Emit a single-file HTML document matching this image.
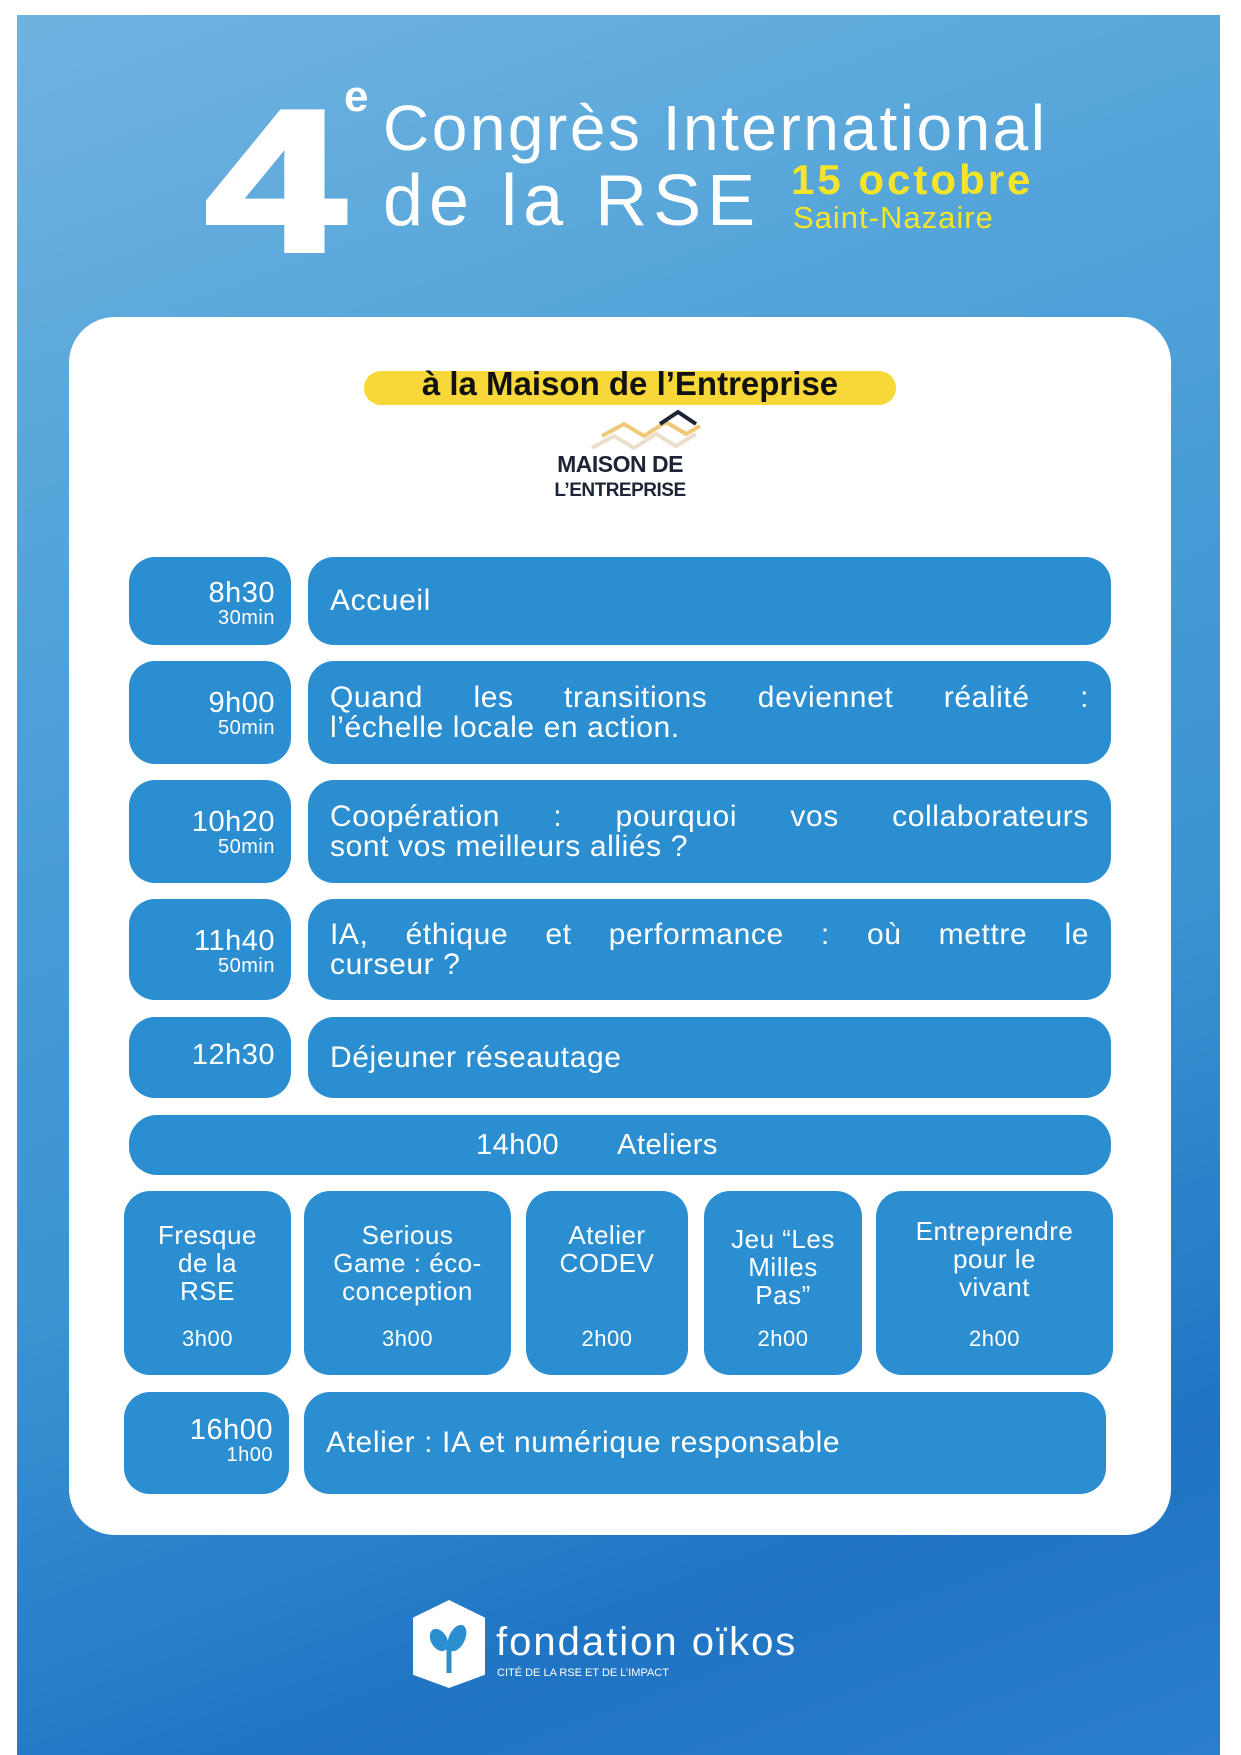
<!DOCTYPE html>
<html><head><meta charset="utf-8"><style>
*{margin:0;padding:0;box-sizing:border-box}
body{width:1241px;height:1755px;position:relative;background:#fff;font-family:"Liberation Sans",sans-serif;overflow:hidden}
.bg{position:absolute;left:17px;top:15px;width:1203px;height:1740px;background:linear-gradient(160deg,#6fb3e0 0%,#4fa1d8 30%,#3b93d2 60%,#1f74c3 85%,#2a7fcc 100%)}
.card{position:absolute;left:69px;top:317px;width:1102px;height:1218px;background:#fff;border-radius:46px}
.b{position:absolute;background:#2b8ed1;border-radius:26px;color:#fff;letter-spacing:0.5px}
.t{text-align:right;padding-right:16px}
.t .h{font-size:29px;line-height:29px}
.t .m{font-size:20px;line-height:20px}
.c{font-size:30px;line-height:30px;padding:0 22px;display:flex;align-items:center;letter-spacing:0.6px}
.c .w{width:100%}
.c .j{text-align:justify;text-align-last:justify}
.a{text-align:center;font-size:26px;line-height:28px;padding:30px 4px 0}
.a .d{position:absolute;left:0;right:0;bottom:22px;font-size:22px}
</style></head><body>
<div class="bg"></div>
<div style="position:absolute;left:206px;top:82px;color:#fff;font-weight:bold;font-size:200px;line-height:200px;transform:scaleX(1.25);transform-origin:left;-webkit-text-stroke:6px #fff">4</div>
<div style="position:absolute;left:344px;top:72px;color:#fff;font-weight:bold;font-size:44px">e</div>
<div style="position:absolute;left:383px;top:95px;color:#fff;font-size:64px;line-height:66px;white-space:nowrap;letter-spacing:2.5px">Congrès International</div>
<div style="position:absolute;left:383px;top:166px;color:#fff;font-size:72px;line-height:70px;white-space:nowrap;letter-spacing:6px">de la RSE</div>
<div style="position:absolute;left:791px;top:158px;color:#f5e52a;font-weight:bold;font-size:42px;line-height:44px;white-space:nowrap;letter-spacing:3px">15 octobre</div>
<div style="position:absolute;left:793px;top:202px;color:#f5e52a;font-size:31px;line-height:32px;white-space:nowrap;letter-spacing:1px">Saint-Nazaire</div>
<div class="card"></div>
<div style="position:absolute;left:364px;top:371px;width:532px;height:34px;background:#f7d838;border-radius:17px"></div>
<div style="position:absolute;left:364px;top:364px;width:532px;text-align:center;font-weight:bold;font-size:33px;line-height:40px;color:#111">à la Maison de l’Entreprise</div>
<svg style="position:absolute;left:590px;top:408px" width="115" height="48"><polyline points="2,40 24,28 44,40 66,26 86,38 106,26" fill="none" stroke="#eadfcb" stroke-width="4"/><polyline points="12,28 34,16 54,28 76,14 96,26 110,18" fill="none" stroke="#f0c978" stroke-width="4"/><polyline points="70,16 88,4 106,16" fill="none" stroke="#1d2435" stroke-width="4"/></svg>
<div style="position:absolute;left:530px;top:452px;width:180px;text-align:center;color:#1d2435;font-weight:bold;font-size:23px;line-height:24px;letter-spacing:-0.5px">MAISON DE<br><span style="font-size:19px">L’ENTREPRISE</span></div>

<div class="b t" style="left:129px;top:557px;width:162px;height:88px;padding-top:22px"><div class="h">8h30</div><div class="m">30min</div></div>
<div class="b c" style="left:308px;top:557px;width:803px;height:88px">Accueil</div>

<div class="b t" style="left:129px;top:661px;width:162px;height:103px;padding-top:28px"><div class="h">9h00</div><div class="m">50min</div></div>
<div class="b c" style="left:308px;top:661px;width:803px;height:103px"><div class="w"><div class="j">Quand les transitions deviennet réalité :</div><div>l’échelle locale en action.</div></div></div>

<div class="b t" style="left:129px;top:780px;width:162px;height:103px;padding-top:28px"><div class="h">10h20</div><div class="m">50min</div></div>
<div class="b c" style="left:308px;top:780px;width:803px;height:103px"><div class="w"><div class="j">Coopération : pourquoi vos collaborateurs</div><div>sont vos meilleurs alliés ?</div></div></div>

<div class="b t" style="left:129px;top:899px;width:162px;height:101px;padding-top:28px"><div class="h">11h40</div><div class="m">50min</div></div>
<div class="b c" style="left:308px;top:899px;width:803px;height:101px"><div class="w"><div class="j">IA, éthique et performance : où mettre le</div><div>curseur ?</div></div></div>

<div class="b t" style="left:129px;top:1017px;width:162px;height:81px;padding-top:24px"><div class="h">12h30</div></div>
<div class="b c" style="left:308px;top:1017px;width:803px;height:81px">Déjeuner réseautage</div>

<div class="b" style="left:129px;top:1115px;width:982px;height:60px;font-size:29px;line-height:60px;padding-left:347px;border-radius:28px">14h00<span style="margin-left:58px">Ateliers</span></div>

<div class="b a" style="left:124px;top:1191px;width:167px;height:184px">Fresque<br>de la<br>RSE<div class="d">3h00</div></div>
<div class="b a" style="left:304px;top:1191px;width:207px;height:184px">Serious<br>Game : éco-<br>conception<div class="d">3h00</div></div>
<div class="b a" style="left:526px;top:1191px;width:162px;height:184px">Atelier<br>CODEV<div class="d">2h00</div></div>
<div class="b a" style="left:704px;top:1191px;width:158px;height:184px;padding-top:34px">Jeu “Les<br>Milles<br>Pas”<div class="d">2h00</div></div>
<div class="b a" style="left:876px;top:1191px;width:237px;height:184px;padding-top:26px">Entreprendre<br>pour le<br>vivant<div class="d">2h00</div></div>

<div class="b t" style="left:124px;top:1392px;width:165px;height:102px;padding-top:24px"><div class="h">16h00</div><div class="m">1h00</div></div>
<div class="b c" style="left:304px;top:1392px;width:802px;height:102px">Atelier : IA et numérique responsable</div>

<div style="position:absolute;left:413px;top:1600px;width:72px;height:88px;background:#fff;border-radius:20px 20px 14px 14px;clip-path:polygon(50% 0,100% 20%,100% 85%,50% 100%,0 85%,0 20%)"></div>
<svg style="position:absolute;left:425px;top:1618px" width="50" height="60"><path d="M24 55 V28" stroke="#2b8ed1" stroke-width="5"/><ellipse cx="14" cy="22" rx="8" ry="12" fill="#2b8ed1" transform="rotate(-30 14 22)"/><ellipse cx="32" cy="20" rx="8" ry="14" fill="#2b8ed1" transform="rotate(25 32 20)"/></svg>
<div style="position:absolute;left:496px;top:1620px;color:#fff;font-size:40px;line-height:44px;letter-spacing:2px;white-space:nowrap">fondation oïkos</div>
<div style="position:absolute;left:497px;top:1667px;color:#fff;font-size:11px;white-space:nowrap">CITÉ DE LA RSE ET DE L’IMPACT</div>
</body></html>
